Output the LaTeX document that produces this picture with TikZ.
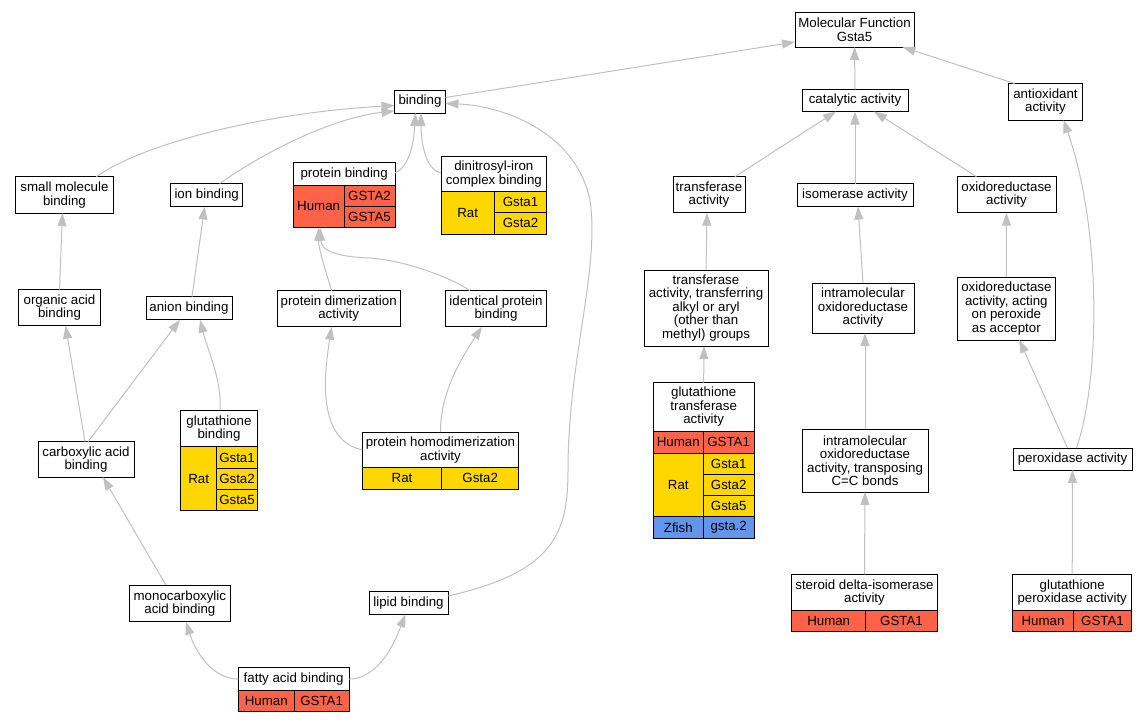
\documentclass[tikz,border=0pt]{standalone}
\usepackage{fontspec}
\setmainfont{Liberation Sans}
\usepackage{tikz}
\usetikzlibrary{arrows.meta,calc}
\definecolor{humanred}{HTML}{FF6347}
\definecolor{ratgold}{HTML}{FFD700}
\definecolor{zfishblue}{HTML}{6495ED}
\definecolor{edgegray}{HTML}{C0C0C0}

\begin{document}
\begin{tikzpicture}[x=1pt,y=-1pt,
	term/.style={draw, fill=white, line width=1pt, inner sep=0pt, outer sep=0pt, align=center, anchor=north west, font=\fontsize{13.3}{13.5}\selectfont},
	wh/.style 2 args={minimum width=#1, minimum height=#2},
	human/.style={term, fill=humanred},
	rat/.style={term, fill=ratgold},
	zfish/.style={term, fill=zfishblue},
	isa/.style={draw=edgegray, line width=1pt, -{Triangle[length=13pt,width=9pt]}}]
\useasboundingbox (0,0) rectangle (1148,723);

% top
\node[term, wh={119pt}{35pt}] (mf) at (795,12) {Molecular Function\\Gsta5};
\node[term, wh={51pt}{23pt}] (binding) at (394.5,90) {binding};
\node[term, wh={106pt}{22pt}] (catalytic) at (802,89.5) {catalytic activity};
\node[term, wh={74pt}{36.5pt}] (antiox) at (1008.5,83.5) {antioxidant\\activity};

% second row
\node[term, wh={97.5pt}{36.5pt}] (smallmol) at (15.7,176.7) {small molecule\\binding};
\node[term, wh={72pt}{23pt}] (ionbind) at (170.7,183.5) {ion binding};
\node[term, wh={101.7pt}{22.3pt}] (protbind) at (293.3,162.7) {protein binding};
\node[human, wh={50.7pt}{42.7pt}] (protbindA) at (293.3,185) {Human};
\node[human, wh={51pt}{21.5pt}] (protbindB) at (344,185) {GSTA2};
\node[human, wh={51pt}{21.2pt}] (protbindC) at (344,206.5) {GSTA5};
\node[term, wh={105.7pt}{35.7pt}] (dinitro) at (441,156) {dinitrosyl-iron\\complex binding};
\node[rat, wh={53.3pt}{42.3pt}] (dinitroA) at (441,191.7) {Rat};
\node[rat, wh={52.4pt}{21pt}] (dinitroB) at (494.3,191.7) {Gsta1};
\node[rat, wh={52.4pt}{21.3pt}] (dinitroC) at (494.3,212.7) {Gsta2};
\node[term, wh={72pt}{36pt}] (transferase) at (673,176.7) {transferase\\activity};
\node[term, wh={116pt}{23pt}] (isomerase) at (797,183.5) {isomerase activity};
\node[term, wh={99pt}{36pt}] (oxidored) at (957,176.7) {oxidoreductase\\activity};

% third row
\node[term, wh={82pt}{36pt}] (organic) at (18.5,289.7) {organic acid\\binding};
\node[term, wh={86pt}{23pt}] (anion) at (146,296.7) {anion binding};
\node[term, wh={122.7pt}{36pt}] (protdimer) at (277.3,290.7) {protein dimerization\\activity};
\node[term, wh={101.4pt}{36pt}] (identical) at (445.3,290.7) {identical protein\\binding};
\node[term, wh={124pt}{76pt}] (transalkyl) at (644,270) {transferase\\activity, transferring\\alkyl or aryl\\(other than\\methyl) groups};
\node[term, wh={102pt}{50pt}] (intramol) at (812,283) {intramolecular\\oxidoreductase\\activity};
\node[term, wh={98.7pt}{63pt}] (oxperox) at (957,277) {oxidoreductase\\activity, acting\\on peroxide\\as acceptor};

% fourth row
\node[term, wh={96pt}{35.5pt}] (carboxylic) at (38,441.7) {carboxylic acid\\binding};
\node[term, wh={76.6pt}{36.7pt}] (glutbind) at (180.7,410) {glutathione\\binding};
\node[rat, wh={36pt}{64pt}] (glutbindA) at (180.7,446.7) {Rat};
\node[rat, wh={40.6pt}{21.6pt}] (glutbindB) at (216.7,446.7) {Gsta1};
\node[rat, wh={40.6pt}{21pt}] (glutbindC) at (216.7,468.3) {Gsta2};
\node[rat, wh={40.6pt}{21.4pt}] (glutbindD) at (216.7,489.3) {Gsta5};
\node[term, wh={156.4pt}{35.7pt}] (homodimer) at (362.3,432) {protein homodimerization\\activity};
\node[rat, wh={79.4pt}{21.3pt}] (homodimerA) at (362.3,467.7) {Rat};
\node[rat, wh={77pt}{21.3pt}] (homodimerB) at (441.7,467.7) {Gsta2};
\node[term, wh={100.7pt}{48.3pt}] (gst) at (653.3,382.7) {glutathione\\transferase\\activity};
\node[human, wh={50pt}{22.3pt}] (gstA) at (653.3,431) {Human};
\node[human, wh={50.7pt}{22.3pt}] (gstB) at (703.3,431) {GSTA1};
\node[rat, wh={50pt}{63.4pt}] (gstC) at (653.3,453.3) {Rat};
\node[rat, wh={50.7pt}{21pt}] (gstD) at (703.3,453.3) {Gsta1};
\node[rat, wh={50.7pt}{21.4pt}] (gstE) at (703.3,474.3) {Gsta2};
\node[rat, wh={50.7pt}{21pt}] (gstF) at (703.3,495.7) {Gsta5};
\node[zfish, wh={50pt}{21.6pt}] (gstG) at (653.3,516.7) {Zfish};
\node[zfish, wh={50.7pt}{21.6pt}] (gstH) at (703.3,516.7) {gsta.2};
\node[term, wh={126pt}{63pt}] (transposing) at (802,429) {intramolecular\\oxidoreductase\\activity, transposing\\C=C bonds};
\node[term, wh={119pt}{22pt}] (peroxidase) at (1013,448) {peroxidase activity};

% fifth row
\node[term, wh={101.7pt}{36.7pt}] (monocarb) at (129,585) {monocarboxylic\\acid binding};
\node[term, wh={79pt}{22.6pt}] (lipid) at (369,591.7) {lipid binding};
\node[term, wh={145.6pt}{36.4pt}] (steroid) at (791.7,574.3) {steroid delta-isomerase\\activity};
\node[human, wh={74pt}{21pt}] (steroidA) at (791.7,610.7) {Human};
\node[human, wh={71.6pt}{21pt}] (steroidB) at (865.7,610.7) {GSTA1};
\node[term, wh={119pt}{36.4pt}] (glutperox) at (1012.7,574.3) {glutathione\\peroxidase activity};
\node[human, wh={60.6pt}{21pt}] (glutperoxA) at (1012.7,610.7) {Human};
\node[human, wh={58.4pt}{21pt}] (glutperoxB) at (1073.3,610.7) {GSTA1};

% bottom
\node[term, wh={110.7pt}{23pt}] (fatty) at (238.3,667.7) {fatty acid binding};
\node[human, wh={56pt}{21pt}] (fattyA) at (238.3,690.7) {Human};
\node[human, wh={54.7pt}{21pt}] (fattyB) at (294.3,690.7) {GSTA1};

% is_a edges
\draw[isa] ($(binding.east)+(0,-4)$) -- ($(mf.south west)+(0,-5)$);
\draw[isa] (catalytic.north) -- (mf.south);
\draw[isa] ($(antiox.north)+(-31,0)$) -- ($(mf.south)+(48,0)$);
\draw[isa] ($(smallmol.north)+(32,0)$) .. controls +(43.5,-31.7) and +(-134.5,7.5) .. ($(binding.west)+(0,4)$);
\draw[isa] ($(ionbind.north)+(13,0)$) .. controls +(40,-28.5) and +(-64.5,7) .. ($(binding.west)+(0,9.5)$);
\draw[isa] ($(protbind.east)+(0,-1)$) .. controls +(15,-5.8) and +(-1.5,27) .. ($(binding.south)+(-4.5,0)$);
\draw[isa] ($(dinitro.west)+(0,-1)$) .. controls +(-16,-2.8) and +(0,27) .. ($(binding.south)+(1,0)$);
\draw[isa] ($(lipid.east)+(0,-7)$) .. controls +(105,-24) and +(0,65) .. ++(120,-126)
	.. controls +(0,-110) and +(10,70) .. ++(22,-270)
	.. controls +(-15,-70) and +(54.7,2) .. ($(binding.east)+(0,2)$);
\draw[isa] ($(transferase.north)+(26,0)$) -- ($(catalytic.south)+(-19,0)$);
\draw[isa] (isomerase.north) -- (catalytic.south);
\draw[isa] ($(oxidored.north)+(-30,0)$) -- ($(catalytic.south)+(19,0)$);
\draw[isa] (organic.north) -- ($(smallmol.south)+(-2,0)$);
\draw[isa] ($(anion.north)+(3,0)$) -- ($(ionbind.south)+(-2,0)$);
\draw[isa] ($(glutbind.north)+(1,0)$) .. controls +(2,-30) and +(8,32) .. ($(anion.south)+(11,0)$);
\draw[isa] ($(carboxylic.north)+(-1,0)$) -- ($(organic.south)+(6,0)$);
\draw[isa] ($(carboxylic.north)+(2,0)$) -- ($(anion.south)+(-9,0)$);
\draw[isa] ($(protdimer.north)+(-7,0)$) .. controls +(-6,-20) and +(0,22) .. (protbindA.south);
\draw[isa] ($(identical.north)+(-26,0)$) .. controls +(-15,-10.7) and +(40,3) .. ++(-100,-32.7)
	.. controls +(-30,-1) and +(1,24) .. ($(protbindA.south)+(1.5,0)$);
\draw[isa] (homodimer.west) .. controls +(-47.3,-9.85) and +(-6.7,43.3) .. ($(protdimer.south)+(-7,0)$);
\draw[isa] (homodimer.north) .. controls +(-0.5,-37) and +(-22,33.3) .. ($(identical.south)+(-14,0)$);
\draw[isa] ($(monocarb.north)+(-14,0)$) -- ($(carboxylic.south)+(17,0)$);
\draw[isa] (fatty.west) .. controls +(-28,-1) and +(9,28) .. ($(monocarb.south)+(6,0)$);
\draw[isa] (fatty.east) .. controls +(31,-1) and +(-10,26) .. ($(lipid.south)+(-3,0)$);
\draw[isa] (transalkyl.north) -- ($(transferase.south)+(-2,0)$);
\draw[isa] (gst.north) -- ($(transalkyl.south)+(-2,0)$);
\draw[isa] (intramol.north) -- ($(isomerase.south)+(3,0)$);
\draw[isa] (transposing.north) -- ($(intramol.south)+(2,0)$);
\draw[isa] (steroid.north) -- (transposing.south);
\draw[isa] (oxperox.north) -- (oxidored.south);
\draw[isa] ($(peroxidase.north)+(-5,0)$) -- ($(oxperox.south)+(13,0)$);
\draw[isa] ($(peroxidase.north)+(4,0)$) .. controls +(23.5,-68) and +(38.5,110) .. ($(antiox.south)+(18,0)$);
\draw[isa] (glutperox.north) -- (peroxidase.south);
\end{tikzpicture}
\end{document}
